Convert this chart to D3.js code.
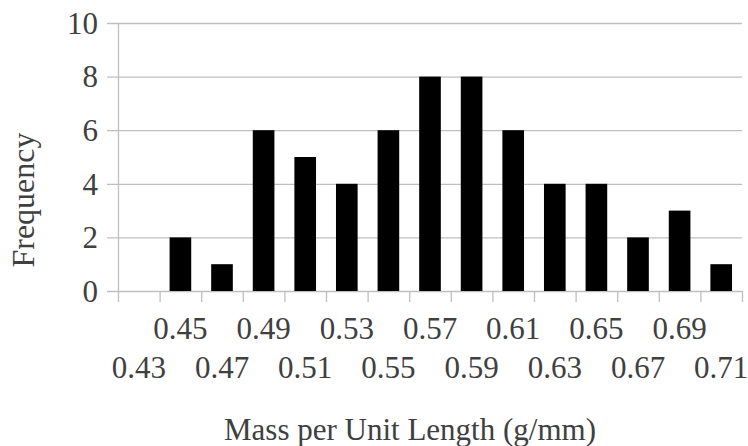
<!DOCTYPE html>
<html>
<head>
<meta charset="utf-8">
<script src="https://cdn.jsdelivr.net/npm/d3@7"></script>
<style>
  body { margin: 0; background: #fff; }
  text { font-family: "Liberation Serif", "Times New Roman", serif; fill: #404040; }
</style>
</head>
<body>
<div id="chart"></div>
<script>
// bins (g/mm) and their counts
var bins = ['0.43', '0.45', '0.47', '0.49', '0.51', '0.53', '0.55', '0.57',
            '0.59', '0.61', '0.63', '0.65', '0.67', '0.69', '0.71'];
var counts = [0, 2, 1, 6, 5, 4, 6, 8, 8, 6, 4, 4, 2, 3, 1];
var yTicks = [0, 2, 4, 6, 8, 10];

var w = 748, h = 446;
var margin = {top: 23, right: 6, bottom: 155, left: 118};
var pw = w - margin.left - margin.right;
var ph = h - margin.top - margin.bottom;
var fs = '31px';

var svg = d3.select('#chart').append('svg')
    .attr('width', w)
    .attr('height', h);

var g = svg.append('g')
    .attr('transform', 'translate(' + margin.left + ',' + margin.top + ')');

var x = d3.scaleBand().domain(bins).range([0, pw]).paddingInner(0.48).paddingOuter(0.24);
var xb = d3.scaleBand().domain(bins).range([0, pw]);
var y = d3.scaleLinear().domain([0, 10]).range([ph, 0]);

// gridlines with outward ticks
g.append('g').selectAll('line')
    .data(yTicks)
    .enter().append('line')
    .attr('x1', -11)
    .attr('x2', pw)
    .attr('y1', function (d) { return y(d) + 0.5; })
    .attr('y2', function (d) { return y(d) + 0.5; })
    .attr('stroke', '#bfbfbf')
    .attr('stroke-width', 1.3);

g.append('g').selectAll('text')
    .data(yTicks)
    .enter().append('text')
    .attr('x', -20)
    .attr('y', function (d) { return y(d); })
    .attr('dy', '0.35em')
    .attr('text-anchor', 'end')
    .style('font-size', fs)
    .text(function (d) { return d; });

// y axis line
g.append('line')
    .attr('x1', 0.5).attr('x2', 0.5)
    .attr('y1', 0).attr('y2', ph + 0.5)
    .attr('stroke', '#bfbfbf')
    .attr('stroke-width', 1.3);

// x ticks at band edges
var edges = bins.map(function (b) { return xb(b); }).concat([pw]);
g.append('g').selectAll('line')
    .data(edges)
    .enter().append('line')
    .attr('x1', function (d) { return d + 0.5; })
    .attr('x2', function (d) { return d + 0.5; })
    .attr('y1', ph)
    .attr('y2', ph + 11)
    .attr('stroke', '#bfbfbf')
    .attr('stroke-width', 1.3);

// bars
g.append('g').selectAll('rect')
    .data(counts)
    .enter().append('rect')
    .attr('x', function (d, i) { return x(bins[i]); })
    .attr('width', x.bandwidth())
    .attr('y', function (d) { return y(d); })
    .attr('height', function (d) { return ph - y(d); })
    .attr('fill', '#000');

// staggered category labels
g.append('g').selectAll('text')
    .data(bins)
    .enter().append('text')
    .attr('x', function (d) { return xb(d) + xb.bandwidth() / 2; })
    .attr('y', function (d, i) { return i % 2 ? ph + 48 : ph + 87; })
    .attr('text-anchor', 'middle')
    .style('font-size', fs)
    .text(function (d) { return d; });

svg.append('text')
    .attr('x', 410)
    .attr('y', 440)
    .attr('text-anchor', 'middle')
    .style('font-size', fs)
    .text('Mass per Unit Length (g/mm)');

svg.append('text')
    .attr('transform', 'translate(34,200)rotate(-90)')
    .attr('text-anchor', 'middle')
    .style('font-size', '32px')
    .text('Frequency');
</script>
</body>
</html>
